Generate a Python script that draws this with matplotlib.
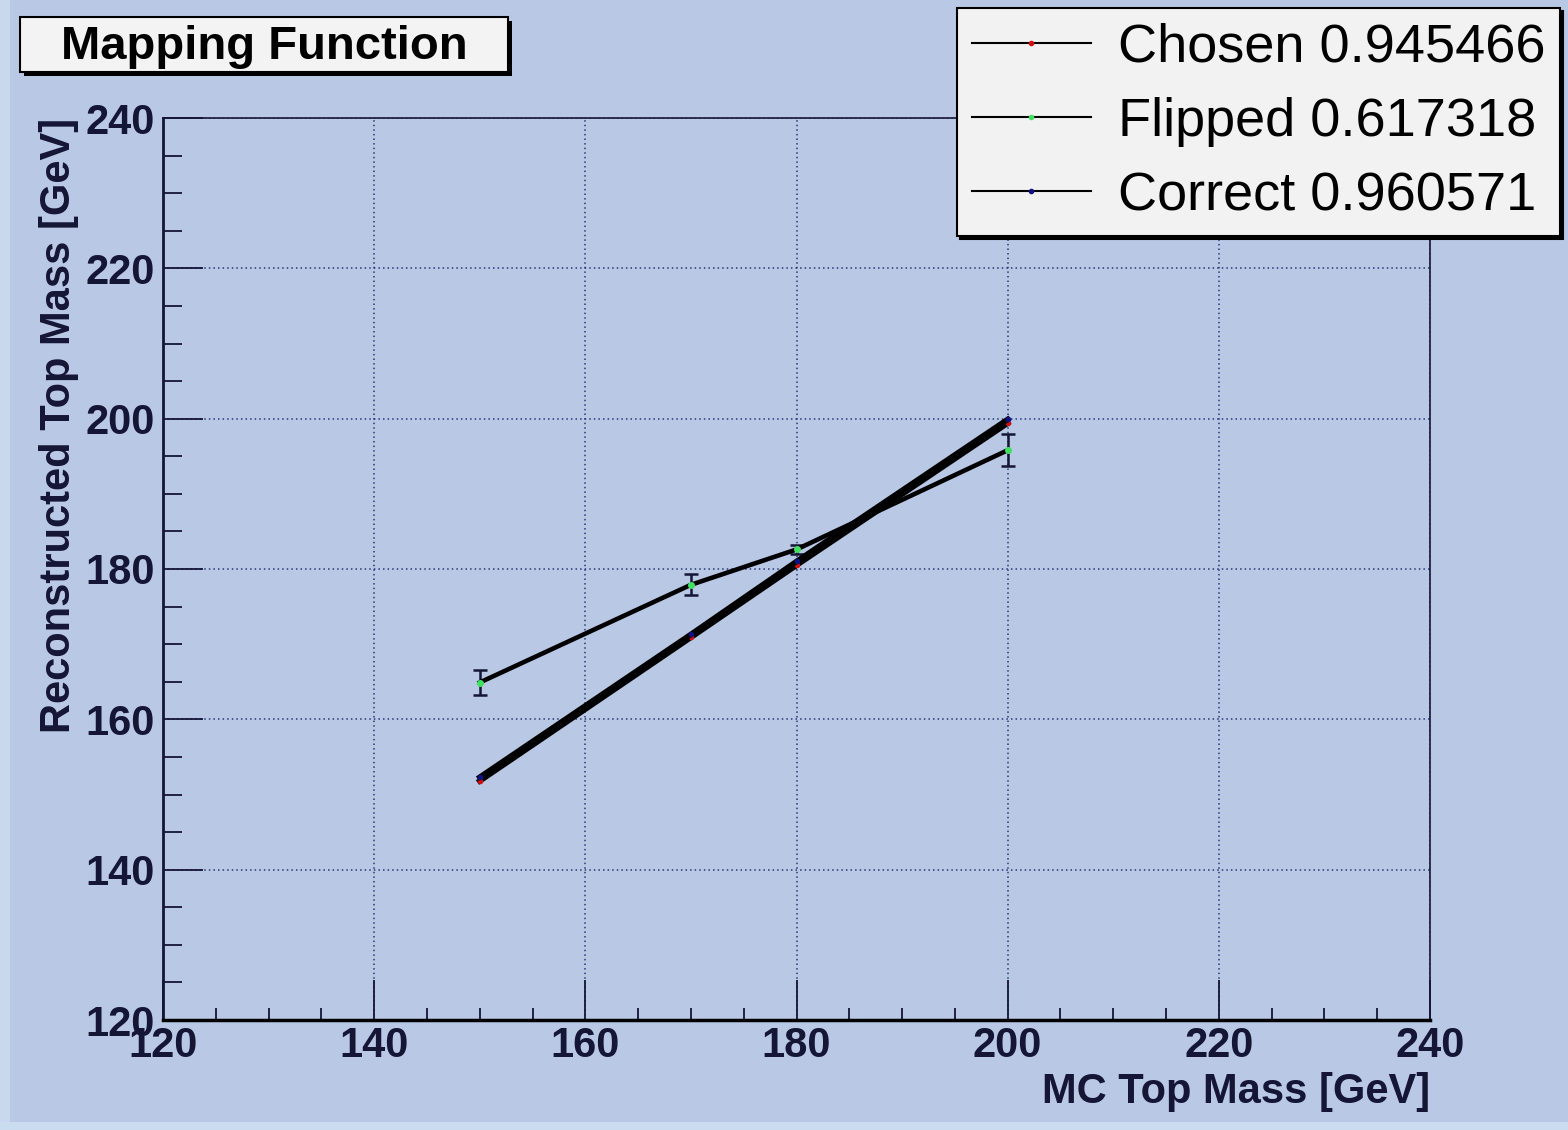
import matplotlib
matplotlib.use("Agg")
import matplotlib.pyplot as plt
from matplotlib.patches import Rectangle
from matplotlib.lines import Line2D
from matplotlib.ticker import MultipleLocator

plt.rcParams['font.family'] = ['Liberation Sans', 'DejaVu Sans']

# ---- data ----
mc_mass = [150, 170, 180, 200]
chosen = [151.8, 170.9, 180.5, 199.4]
flipped = [164.9, 177.9, 182.6, 195.8]
flipped_err = [1.7, 1.4, 0.6, 2.1]
correct = [152.3, 171.3, 181.0, 199.9]
labels = ["Chosen 0.945466", "Flipped 0.617318", "Correct 0.960571"]
marker_colors = ['#d01010', '#40e060', '#101080']
title = "Mapping Function"
xlabel = "MC Top Mass [GeV]"
ylabel = "Reconstructed Top Mass [GeV]"

W, H = 1568, 1130
bg = '#b9c9e5'
ink = '#151535'

fig = plt.figure(figsize=(W / 100, H / 100), dpi=100, facecolor=bg)
# lighter edge strips of the canvas
fig.patches.append(Rectangle((0, 0), 10 / W, 1, transform=fig.transFigure,
                             facecolor='#cad8ee', edgecolor='none', zorder=0))
fig.patches.append(Rectangle((0, 0), 1, 8 / H, transform=fig.transFigure,
                             facecolor='#cadcf0', edgecolor='none', zorder=0))

ax = fig.add_axes([163 / W, 1 - 1020 / H, (1430 - 163) / W, (1020 - 118) / H])
ax.set_facecolor(bg)

ax.plot(mc_mass, chosen, color='black', lw=4.0, marker='o', ms=3,
        mfc=marker_colors[0], mec=marker_colors[0], zorder=3)
ax.errorbar(mc_mass, flipped, yerr=flipped_err, color='black', lw=3.3,
            marker='o', ms=4, mfc=marker_colors[1], mec=marker_colors[1], ecolor=ink,
            elinewidth=1.8, capsize=5, capthick=1.8, zorder=3)
ax.plot(mc_mass, correct, color='black', lw=4.0, marker='o', ms=3,
        mfc=marker_colors[2], mec=marker_colors[2], zorder=3)

ax.set_xlim(120, 240)
ax.set_ylim(120, 240)
ax.xaxis.set_major_locator(MultipleLocator(20))
ax.yaxis.set_major_locator(MultipleLocator(20))
ax.xaxis.set_minor_locator(MultipleLocator(5))
ax.yaxis.set_minor_locator(MultipleLocator(5))
ax.grid(True, which='major', linestyle=(0, (1, 2)), color='#1a2a6a', lw=1.1, alpha=0.9)

ax.tick_params(axis='both', which='both', direction='in', color=ink, top=False, right=False)
ax.tick_params(axis='x', which='major', length=29, width=1.3, pad=4)
ax.tick_params(axis='x', which='minor', length=9, width=1.3)
ax.tick_params(axis='y', which='major', length=29, width=1.3, pad=6)
ax.tick_params(axis='y', which='minor', length=14, width=1.3)
for lab in ax.get_xticklabels() + ax.get_yticklabels():
    lab.set_fontsize(30)
    lab.set_fontweight('bold')
    lab.set_color(ink)

for side in ['top', 'right']:
    ax.spines[side].set_linewidth(1.2)
    ax.spines[side].set_color(ink)
ax.spines['bottom'].set_linewidth(2.5)
ax.spines['bottom'].set_color('black')
ax.spines['left'].set_linewidth(2.0)
ax.spines['left'].set_color(ink)

ax.set_xlabel(xlabel, loc='right', fontsize=30, fontweight='bold', color=ink)
ax.xaxis.set_label_coords(1.0, -0.058)
ax.set_ylabel(ylabel, loc='top', fontsize=30, fontweight='bold', color=ink)
ax.yaxis.set_label_coords(-0.066, 1.0)

# title box with shadow
fig.patches.append(Rectangle((24 / W, 1 - 76 / H), 488 / W, 55 / H,
                             transform=fig.transFigure, facecolor='black',
                             edgecolor='none', zorder=5))
fig.patches.append(Rectangle((20 / W, 1 - 72 / H), 488 / W, 55 / H,
                             transform=fig.transFigure, facecolor='#f3f3f3',
                             edgecolor='black', lw=1.5, zorder=6))
fig.text(264 / W, 1 - 47 / H, title, ha='center', va='center', fontsize=34,
         fontweight='bold', color='black', zorder=7)

# legend
handles = [Line2D([], [], color='black', lw=1.5, marker='o', ms=3,
                  mfc=c, mec=c) for c in marker_colors]
leg = ax.legend(handles, labels, loc='upper left', bbox_to_anchor=(957 / W, 1 - 8 / H),
                bbox_transform=fig.transFigure, fontsize=39, frameon=True,
                fancybox=False, shadow={'color': 'black', 'alpha': 1.0},
                facecolor='#f2f2f2', edgecolor='black', framealpha=1.0,
                handlelength=2.2, handletextpad=0.5, borderpad=0.27,
                labelspacing=0.45, borderaxespad=0)
leg.get_frame().set_linewidth(1.5)

fig.savefig('out.png', dpi=100, facecolor=bg)
